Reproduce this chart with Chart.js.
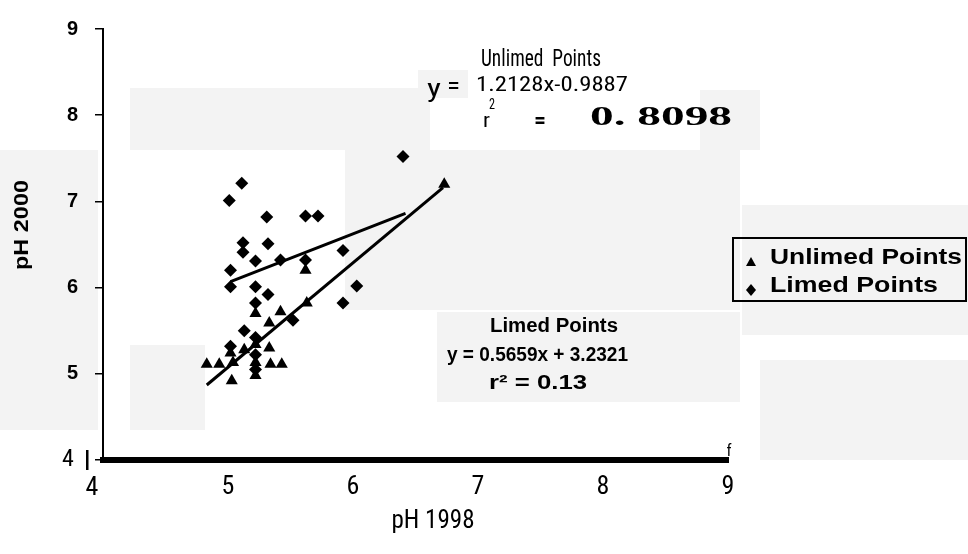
<!DOCTYPE html>
<html>
<head>
<meta charset="utf-8">
<script src="https://cdn.jsdelivr.net/npm/chart.js@4.4.1/dist/chart.umd.min.js"></script>
<style>
html,body{margin:0;padding:0;background:#fff;}
#wrap{position:relative;width:968px;height:554px;}
</style>
</head>
<body>
<div id="wrap"><canvas id="c" width="968" height="554"></canvas></div>
<script>
// ---- data ----
const unlimedX = [6.73,5.62,5.22,5.42,5.33,5.63,5.22,5.13,5.33,5.02,4.83,4.93,5.04,5.22,5.34,5.43,5.22,5.03];
const unlimedY = [7.20,6.20,5.70,5.72,5.59,5.82,5.34,5.28,5.30,5.24,5.11,5.11,5.13,5.13,5.11,5.11,4.98,4.92];
const limedX = [5.11,5.01,5.31,5.62,5.72,6.40,5.12,5.12,5.32,5.22,5.42,5.62,5.92,5.02,5.02,5.22,6.03,5.32,5.22,5.92,5.52,5.13,5.22,5.02,5.22,5.22];
const limedY = [7.21,7.01,6.82,6.83,6.83,7.52,6.52,6.41,6.51,6.31,6.32,6.32,6.43,6.20,6.01,6.01,6.02,5.92,5.82,5.82,5.62,5.50,5.42,5.32,5.22,5.05];
const unlimedFitX = [4.83, 6.72];
const unlimedFitY = [4.87, 7.16];
const limedFitX = [5.02, 6.42];
const limedFitY = [6.07, 6.86];
const xTicks = [4,5,6,7,8,9];
const yTicks = [4,5,6,7,8,9];
const seriesNames = ['Unlimed Points','Limed Points'];

const pts = (xs, ys) => xs.map((x,i)=>({x:x,y:ys[i]}));
const NARROW = "'Liberation Sans Narrow','Arial Narrow','Roboto Condensed',Arial,sans-serif";
const SANS = "'Liberation Sans',Arial,sans-serif";
const SERIF = "'Liberation Serif','Times New Roman',serif";

// draw text from left edge x, squeezed/stretched to a given width
function fitText(c, text, x, y, font, width){
  c.save();
  c.font = font;
  c.textAlign = 'left';
  c.textBaseline = 'middle';
  const w = c.measureText(text).width;
  const s = width / w;
  c.translate(x, y);
  c.scale(s, 1);
  c.fillText(text, 0, 0);
  c.restore();
}

const decor = {
  id:'decor',
  beforeDraw(chart){
    const c = chart.ctx;
    c.save();
    c.fillStyle = '#fff';
    c.fillRect(0,0,chart.width,chart.height);
    c.fillStyle = '#f3f3f3';
    c.fillRect(130,88,300,62);
    c.fillRect(418,70,50,28);
    c.fillRect(345,150,395,160);
    c.fillRect(437,312,303,90);
    c.fillRect(130,345,75,85);
    c.fillRect(0,150,98,280);
    c.fillRect(742,205,226,130);
    c.fillRect(760,360,208,100);
    c.fillRect(700,90,60,60);
    c.restore();
  },
  afterDraw(chart){
    const c = chart.ctx;
    c.save();
    c.fillStyle = '#000';
    c.textBaseline = 'middle';
    // axis titles
    c.textAlign = 'center';
    c.font = "25px " + NARROW;
    c.fillText('pH 1998', 433, 522);
    c.save();
    c.translate(22, 225);
    c.rotate(-Math.PI/2);
    fitText(c, 'pH 2000', -45, 0, "bold 21px " + SANS, 90);
    c.restore();
    // "4" labels at the origin
    c.font = "24px " + NARROW;
    c.textAlign = 'center';
    c.fillText('4', 68, 460);
    c.font = "26px " + NARROW;
    c.fillText(String(xTicks[0]), 92, 488);
    c.fillRect(86, 450, 2.5, 20);
    c.font = "16px " + NARROW;
    c.fillText('f', 729, 452);

    // unlimed annotation
    fitText(c, 'Unlimed  Points', 481, 60, "23px " + NARROW, 120);
    fitText(c, 'y', 427, 90, "26px " + NARROW, 14);
    fitText(c, '=', 447, 88, "24px " + NARROW, 13);
    fitText(c, '1.2128x-0.9887', 476, 86, "21px " + NARROW, 152);
    fitText(c, 'r', 483, 122, "21px " + NARROW, 7);
    fitText(c, '2', 489, 105, "14px " + NARROW, 6);
    fitText(c, '=', 534, 121, "bold 22px " + NARROW, 12);
    fitText(c, '0. 8098', 590, 118, "bold 27px " + SERIF, 142);

    // limed annotation
    fitText(c, 'Limed Points', 490, 326, "bold 20px " + SANS, 128);
    fitText(c, 'y = 0.5659x + 3.2321', 447, 355, "bold 20px " + SANS, 181);
    fitText(c, 'r\u00B2 = 0.13', 489, 383, "bold 20px " + SANS, 98);

    // legend
    c.lineWidth = 2;
    c.strokeStyle = '#000';
    c.strokeRect(733, 238, 233, 63);
    fitText(c, seriesNames[0], 770, 258, "bold 22px " + SANS, 192);
    fitText(c, seriesNames[1], 770, 286, "bold 22px " + SANS, 168);
    c.beginPath();
    c.moveTo(751, 257); c.lineTo(756, 266); c.lineTo(746, 266); c.closePath(); c.fill();
    c.beginPath();
    c.moveTo(751, 284); c.lineTo(756, 290); c.lineTo(751, 296); c.lineTo(746, 290); c.closePath(); c.fill();
    c.restore();
  }
};

new Chart(document.getElementById('c'), {
  type: 'scatter',
  data: {
    datasets: [
      {label: seriesNames[0], data: pts(unlimedX, unlimedY), pointStyle:'triangle', pointRadius:7, backgroundColor:'#000', borderColor:'#000', borderWidth:0},
      {label: seriesNames[1], data: pts(limedX, limedY), pointStyle:'rectRot', pointRadius:6.5, backgroundColor:'#000', borderColor:'#000', borderWidth:0},
      {type:'line', label:'fitU', data: pts(unlimedFitX, unlimedFitY), showLine:true, pointRadius:0, borderColor:'#000', borderWidth:3, fill:false},
      {type:'line', label:'fitL', data: pts(limedFitX, limedFitY), showLine:true, pointRadius:0, borderColor:'#000', borderWidth:3, fill:false}
    ]
  },
  options: {
    responsive:false,
    animation:false,
    devicePixelRatio:1,
    layout:{padding:{left:0,right:240,top:22,bottom:0}},
    plugins:{legend:{display:false}, tooltip:{enabled:false}},
    scales:{
      x:{
        type:'linear', min:4, max:9,
        afterBuildTicks(s){ s.ticks = xTicks.map(v=>({value:v})); },
        afterFit(s){ s.height = 94; },
        grid:{display:false, drawTicks:false},
        border:{display:true, color:'#000', width:6},
        ticks:{color:'#000', font:{family:NARROW, size:26}, padding:12, maxRotation:0, autoSkip:false,
          callback:(v)=> v===4 ? '' : String(v)}
      },
      y:{
        type:'linear', min:4, max:9,
        afterBuildTicks(s){ s.ticks = yTicks.map(v=>({value:v})); },
        afterFit(s){ s.width = 103; },
        grid:{display:true, drawOnChartArea:false, drawTicks:true, tickLength:8, color:'#000', lineWidth:1.5},
        border:{display:true, color:'#000', width:2},
        ticks:{color:'#000', font:{family:SANS, size:20, weight:'bold'}, padding:17, autoSkip:false,
          callback:(v)=> v===4 ? '' : String(v)}
      }
    }
  },
  plugins:[decor]
});
</script>
</body>
</html>
